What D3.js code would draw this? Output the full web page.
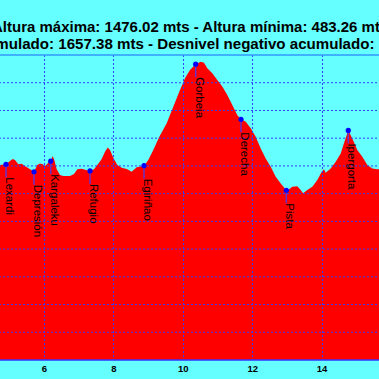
<!DOCTYPE html>
<html><head><meta charset="utf-8">
<script src="https://cdn.jsdelivr.net/npm/d3@7"></script>
<style>html,body{margin:0;padding:0;background:#66ffff;overflow:hidden}svg{display:block}</style>
</head><body>
<script>
const titleLine1 = "Altura máxima: 1476.02 mts - Altura mínima: 483.26 mts";
const titleLine2 = "Desnivel positivo acumulado: 1657.38 mts - Desnivel negativo acumulado: 1657.38 mts";
const xTicks = [6, 8, 10, 12, 14];
const yGrid = [500, 600, 700, 800, 900, 1000, 1100, 1200, 1300, 1400];
const distKm = [4.59,4.732,4.905,5.020,5.098,5.164,5.259,5.357,5.452,5.597,5.712,5.807,5.885,5.963,6.029,6.124,6.193,6.251,6.297,6.366,6.461,6.556,6.749,6.865,6.960,7.086,7.210,7.326,7.441,7.536,7.663,7.758,7.836,7.902,7.997,8.113,8.239,8.383,8.527,8.672,8.882,9.006,9.150,9.323,9.536,9.726,9.919,10.063,10.207,10.371,10.516,10.611,10.706,10.850,10.994,11.138,11.282,11.426,11.571,11.677,11.813,11.957,12.101,12.245,12.389,12.533,12.677,12.822,12.983,13.061,13.156,13.300,13.398,13.464,13.588,13.732,13.877,14.003,14.069,14.118,14.263,14.407,14.551,14.675,14.769,14.885,15.029,15.173,15.317,15.461,15.605,15.83];
const elevM = [1100,1103,1106,1118,1125,1121,1106,1108,1100,1088,1079,1103,1109,1106,1100,1111,1117,1136,1121,1088,1067,1064,1064,1071,1088,1090,1085,1082,1088,1103,1125,1151,1166,1157,1129,1103,1093,1089,1079,1095,1101,1121,1157,1205,1254,1313,1374,1416,1446,1467,1476,1472,1452,1434,1410,1386,1356,1320,1283,1268,1259,1236,1205,1163,1127,1097,1061,1037,1012,1016,1025,1027,1013,1001,1013,1025,1049,1079,1088,1075,1091,1115,1145,1193,1228,1199,1157,1133,1103,1091,1088,1088];
const wpNames = ["Lexardi","Depresión","Kargaleku","Refugio","Egiriñao","Gorbeia","Derecha","Pista","Ipergorta"];
const wpKm = [4.905,5.712,6.193,7.326,8.882,10.371,11.677,12.983,14.769];
const wpElev = [1106,1079,1117,1082,1101,1467,1268,1012,1228];

const W = 379, H = 379;
const svg = d3.select("body").append("svg").attr("width", W).attr("height", H);
svg.append("rect").attr("width", W).attr("height", H).attr("fill", "#66ffff");

const x = d3.scaleLinear().domain([4.732, 15.654]).range([0, 379]);
const y = d3.scaleLinear().domain([400, 1500]).range([360, 55]);

const data = distKm.map((d, i) => ({km: d, e: elevM[i]}));
const area = d3.area().x(d => x(d.km)).y0(y(400)).y1(d => y(d.e));
svg.append("path").datum(data).attr("d", area).attr("fill", "#ff0000");

// grid
const gridColor = "#3040ff";
svg.append("g").selectAll("line").data(yGrid).join("line")
  .attr("x1", -5).attr("x2", W + 5).attr("y1", d => y(d)).attr("y2", d => y(d))
  .attr("stroke", gridColor).attr("stroke-width", 1).attr("stroke-dasharray", "2,2");
svg.append("g").selectAll("line").data(xTicks).join("line")
  .attr("x1", d => Math.round(x(d)) + 0.5).attr("x2", d => Math.round(x(d)) + 0.5)
  .attr("y1", y(1500)).attr("y2", y(400))
  .attr("stroke", gridColor).attr("stroke-width", 1).attr("stroke-dasharray", "2,2");

// borders
svg.append("line").attr("x1", 0).attr("x2", W).attr("y1", y(1500)).attr("y2", y(1500))
  .attr("stroke", "#3399ff").attr("stroke-width", 1.5);
svg.append("line").attr("x1", 0).attr("x2", W).attr("y1", y(400)).attr("y2", y(400))
  .attr("stroke", "#3333ff").attr("stroke-width", 1.5);

// x axis labels
const xAxis = d3.axisBottom(x).tickValues(xTicks).tickSize(0).tickPadding(5).tickFormat(d3.format("d"));
const gx = svg.append("g").attr("transform", `translate(0,${y(400)})`).call(xAxis);
gx.select(".domain").remove();
gx.selectAll("text").attr("font-family", "Liberation Sans, Arial, sans-serif")
  .attr("font-size", "9.5px").attr("font-weight", "bold").attr("fill", "#000");

// titles
svg.append("text").attr("x", -8).attr("y", 32).text(titleLine1)
  .attr("font-family", "Liberation Sans, Arial, sans-serif").attr("font-size", "15px")
  .attr("font-weight", "bold").attr("fill", "#000");
svg.append("text").attr("x", -159).attr("y", 49).text(titleLine2)
  .attr("font-family", "Liberation Sans, Arial, sans-serif").attr("font-size", "15.1px")
  .attr("font-weight", "bold").attr("fill", "#000");

// waypoints
const wps = wpNames.map((n, i) => ({name: n, km: wpKm[i], e: wpElev[i]}));
const g = svg.append("g").selectAll("g").data(wps).join("g")
  .attr("transform", d => `translate(${x(d.km)},${y(d.e)})`);
g.append("line").attr("x1", 0).attr("x2", 0).attr("y1", 0).attr("y2", 13)
  .attr("stroke", "#6633cc").attr("stroke-width", 1.5);
g.append("circle").attr("r", 2.6).attr("fill", "#0000ff");
g.append("text").text(d => d.name)
  .attr("transform", "translate(0,13) rotate(90)")
  .attr("font-family", "Liberation Sans, Arial, sans-serif").attr("font-size", "11.5px")
  .attr("fill", "#000");
</script>
</body></html>
